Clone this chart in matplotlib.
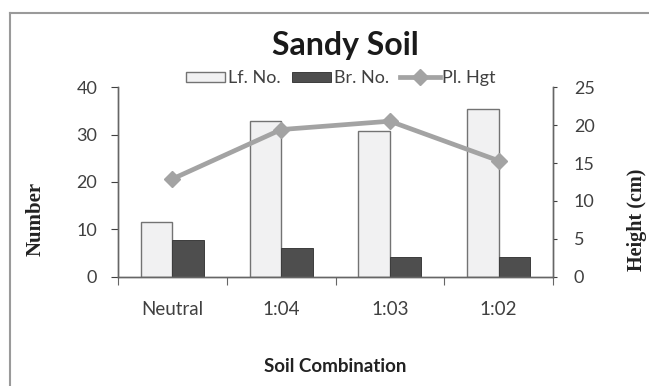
import numpy as np
import matplotlib
matplotlib.use("Agg")
import matplotlib.pyplot as plt
from matplotlib.lines import Line2D

# data
categories = ["Neutral", "1:04", "1:03", "1:02"]
leaf_no = [11.5, 32.9, 30.7, 35.4]
branch_no = [7.7, 6.2, 4.2, 4.2]
plant_hgt = [12.9, 19.4, 20.5, 15.3]

plt.rcParams['font.family'] = ['Lato', 'DejaVu Sans']

fig = plt.figure(figsize=(6.49, 3.86), dpi=100)
fig.patch.set_facecolor("white")
ax = fig.add_axes([0.1818, 0.2824, 0.6703, 0.4922])
ax2 = ax.twinx()

x = np.arange(len(categories))
w = 0.29
ax.bar(x - w/2, leaf_no, w, color="#f1f1f2", edgecolor="#737373", linewidth=1.0, label="Lf. No.")
ax.bar(x + w/2, branch_no, w, color="#4e4e4e", edgecolor="#3c3c3c", linewidth=0.7, label="Br. No.")
ax2.plot(x, plant_hgt, color="#a3a3a3", lw=3.4, marker="D", ms=8, label="Pl. Hgt")

ax.set_xlim(-0.5, len(categories) - 0.5)
ax.set_ylim(0, 40)
ax2.set_ylim(0, 25)
ax.set_yticks([0, 10, 20, 30, 40])
ax2.set_yticks([0, 5, 10, 15, 20, 25])

# category labels sit between the boundary ticks
ax.set_xticks(np.arange(-0.5, len(categories), 1.0))
ax.set_xticklabels([])
ax.set_xticks(x, minor=True)
ax.set_xticklabels(categories, minor=True)
ax.tick_params(axis="x", which="minor", length=0, pad=17, labelsize=13.5, colors="#404040")
ax.tick_params(axis="x", which="major", length=6, color="#666666")

for a in (ax, ax2):
    for s in a.spines.values():
        s.set_color("#666666")
        s.set_linewidth(1.0)
    a.spines["top"].set_visible(False)
ax.tick_params(axis="y", length=5, labelsize=13, colors="#404040", pad=10)
ax2.tick_params(axis="y", length=3, labelsize=13, colors="#404040", pad=12)
for a in (ax, ax2):
    for t in a.get_yticklines():
        t.set_color("#666666")

fig.text(36/649, 0.434, "Number", rotation=90, ha="center", va="center",
         family="Liberation Serif", fontweight="bold", fontsize=15, color="#222222")
fig.text(637/649, 0.43, "Height (cm)", rotation=90, ha="center", va="center",
         family="Liberation Serif", fontweight="bold", fontsize=14.5, color="#222222")
fig.text(335.5/649, 1 - 367/386, "Soil Combination", ha="center", va="center",
         fontweight="bold", fontsize=13.5, color="#222222")

fig.text(345/649, 0.883, "Sandy Soil", ha="center", va="center", fontsize=23, fontweight="bold", color="#1a1a1a")

h1, l1 = ax.get_legend_handles_labels()
h2, l2 = ax2.get_legend_handles_labels()
leg = fig.legend(h1 + h2, l1 + l2, loc="center", bbox_to_anchor=(0.525, 0.797), ncol=3, frameon=False,
                 fontsize=13, handlelength=2.2, handleheight=0.55, columnspacing=0.6, handletextpad=0.15,
                 borderpad=0)
for t in leg.get_texts():
    t.set_color("#404040")

# outer frame (only left and top edges are inside the picture)
fig.add_artist(Line2D([0.0154, 0.0154], [0.0, 0.966], color="#9a9a9a", lw=1.5))
fig.add_artist(Line2D([0.0154, 1.0], [0.966, 0.966], color="#9a9a9a", lw=1.5))

fig.savefig("out.png", dpi=100)
